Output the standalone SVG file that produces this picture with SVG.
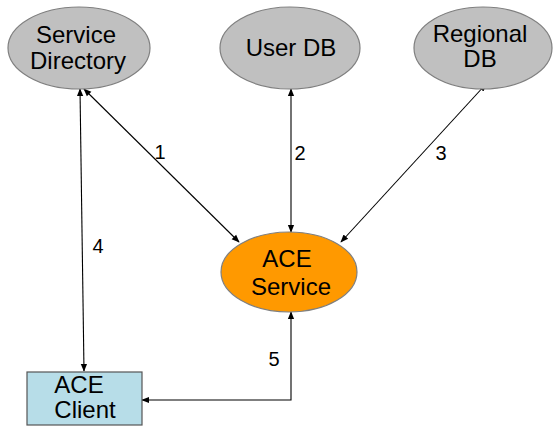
<svg xmlns="http://www.w3.org/2000/svg" width="553" height="428" viewBox="0 0 553 428">
<style>
.db{fill:#c0c0c0;stroke:#7f7f7f;stroke-width:1.2}
.svc{fill:#ff9900;stroke:#7f7f7f;stroke-width:1.2}
.cl{fill:#b7dde8;stroke:#555;stroke-width:1.2}
.t{font-family:"Liberation Sans",Arial,sans-serif;font-size:24px;fill:#000;text-anchor:middle}
.n{font-family:"Liberation Sans",Arial,sans-serif;font-size:20px;fill:#000;text-anchor:middle}
.c{stroke:#000;stroke-width:1.1;fill:none;marker-start:url(#a);marker-end:url(#a)}
</style>
<defs>
<marker id="a" viewBox="0 0 10 10" refX="9" refY="5" markerWidth="8" markerHeight="8" markerUnits="userSpaceOnUse" orient="auto-start-reverse">
<path d="M0,1 L10,5 L0,9 z" fill="#000"/>
</marker>
</defs>
<g id="connectors">
<line class="c" x1="84" y1="89" x2="239" y2="242"/>
<line class="c" x1="291" y1="89" x2="291" y2="232"/>
<line class="c" x1="486" y1="84" x2="341" y2="242"/>
<line class="c" x1="80" y1="89" x2="84" y2="371"/>
<polyline class="c" points="291,312 291,400 142,400"/>
<text class="n" x="160" y="159">1</text>
<text class="n" x="300" y="160">2</text>
<text class="n" x="441" y="160">3</text>
<text class="n" x="98" y="253">4</text>
<text class="n" x="274" y="366">5</text>
</g>
<g id="service-directory">
<ellipse class="db" cx="79" cy="48" rx="71" ry="41"/>
<text class="t" x="76" y="43">Service</text>
<text class="t" x="78" y="69">Directory</text>
</g>
<g id="user-db">
<ellipse class="db" cx="290" cy="48" rx="70" ry="41"/>
<text class="t" x="291" y="56">User DB</text>
</g>
<g id="regional-db">
<ellipse class="db" cx="483" cy="48" rx="69" ry="41"/>
<text class="t" x="480" y="42">Regional</text>
<text class="t" x="480" y="67">DB</text>
</g>
<g id="ace-service">
<ellipse class="svc" cx="289" cy="272" rx="68" ry="40"/>
<text class="t" x="287" y="267">ACE</text>
<text class="t" x="291" y="295">Service</text>
</g>
<g id="ace-client">
<rect class="cl" x="27" y="372" width="115" height="53"/>
<text class="t" x="79" y="393">ACE</text>
<text class="t" x="85" y="418">Client</text>
</g>
</svg>
